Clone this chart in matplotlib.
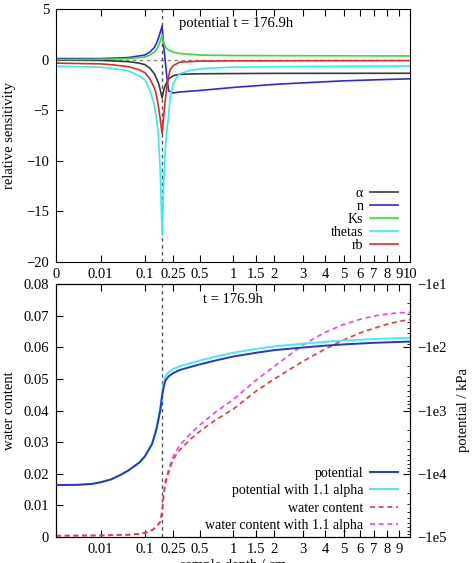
import numpy as np
import matplotlib
matplotlib.use("Agg")
import matplotlib.pyplot as plt
from matplotlib.ticker import FixedLocator, FuncFormatter, LogLocator, NullFormatter

plt.rcParams['font.family'] = ['Liberation Serif', 'DejaVu Serif']
plt.rcParams['font.size'] = 10.5

# ---- top panel: relative sensitivity of potential ----
x_alpha = [0, 0.01, 0.05, 0.08, 0.1, 0.12, 0.14, 0.16, 0.17, 0.18, 0.19, 0.2, 0.21, 0.22, 0.25, 0.3, 0.5, 1, 2, 10]
y_alpha = [-0.05, -0.08, -0.2, -0.35, -0.5, -0.85, -1.4, -2.3, -3.0, -3.8, -3.0, -2.5, -2.2, -1.9, -1.6, -1.45, -1.4, -1.38, -1.36, -1.35]

x_n = [0, 0.01, 0.05, 0.1, 0.12, 0.14, 0.15, 0.16, 0.17, 0.18, 0.19, 0.2, 0.21, 0.22, 0.25, 0.3, 0.5, 1, 2, 3, 5, 7, 10]
y_n = [0.1, 0.1, 0.2, 0.45, 0.75, 1.2, 1.6, 2.1, 2.7, 3.3, 1.3, -0.4, -1.9, -3.1, -3.3, -3.2, -3.05, -2.75, -2.45, -2.3, -2.1, -2.0, -1.9]

x_ks = [0, 0.01, 0.05, 0.1, 0.12, 0.14, 0.15, 0.16, 0.17, 0.18, 0.19, 0.2, 0.22, 0.25, 0.3, 0.5, 1, 10]
y_ks = [0.0, 0.03, 0.1, 0.25, 0.45, 0.75, 1.0, 1.35, 1.85, 2.45, 1.6, 1.2, 0.95, 0.75, 0.6, 0.45, 0.4, 0.36]

x_thetas = [0, 0.01, 0.02, 0.05, 0.08, 0.1, 0.12, 0.14, 0.15, 0.16, 0.17, 0.18, 0.19, 0.2, 0.21, 0.22, 0.23, 0.25, 0.28, 0.3, 0.4, 0.6, 1, 3, 10]
y_thetas = [-0.65, -0.75, -0.85, -1.1, -1.6, -2.0, -3.0, -4.5, -5.8, -7.5, -11, -17.2, -12, -8.5, -6.8, -5.5, -3.7, -2.4, -1.7, -1.4, -1.05, -0.85, -0.75, -0.68, -0.63]

x_rb = [0, 0.01, 0.02, 0.05, 0.08, 0.1, 0.12, 0.14, 0.15, 0.16, 0.17, 0.18, 0.19, 0.2, 0.21, 0.22, 0.23, 0.25, 0.3, 0.5, 1, 10]
y_rb = [-0.35, -0.42, -0.5, -0.7, -1.0, -1.3, -1.9, -2.8, -3.5, -4.6, -5.9, -7.3, -5.5, -3.8, -2.5, -1.6, -1.0, -0.6, -0.25, -0.15, -0.12, -0.1]

# ---- bottom panel: potential (kPa) and water content ----
x_pot = [0, 0.001, 0.005, 0.01, 0.02, 0.033, 0.05, 0.08, 0.1, 0.13, 0.15, 0.17, 0.18, 0.19, 0.2, 0.22, 0.25,
         0.3, 0.4, 0.5, 0.7, 1, 1.5, 2, 3, 4, 5, 7, 10]
pot = [-15100, -14960, -14450, -13650, -12300, -10600, -8900, -6680, -5310, -3350, -2000, -1000, -596, -422, -335, -288, -257,
       -229, -204, -186, -162, -140, -122, -111, -101, -94.4, -90.2, -85.1, -81.3]
pot_alpha = [-15100, -14960, -14450, -13650, -12300, -10600, -8900, -6680, -5310, -3273, -1884, -912, -531, -355, -288, -248, -221,
             -200, -178, -162, -141, -122, -106, -96.6, -88.1, -82.2, -78.5, -74.1, -70.8]

x_wc = [0, 0.01, 0.05, 0.08, 0.1, 0.13, 0.15, 0.17, 0.18, 0.19, 0.2, 0.22, 0.25, 0.3, 0.4, 0.5, 0.7,
        1, 1.5, 2, 3, 4, 5, 6, 7, 8, 9, 10]
wc = [0.0004, 0.0005, 0.0007, 0.001, 0.0013, 0.0022, 0.0033, 0.0048, 0.008, 0.0135, 0.017, 0.0205, 0.0245, 0.0275, 0.031, 0.0335, 0.037,
      0.0405, 0.0462, 0.050, 0.0555, 0.0594, 0.0623, 0.0645, 0.066, 0.0673, 0.0682, 0.0687]
wc_alpha = [0.0004, 0.0005, 0.0007, 0.001, 0.0013, 0.0022, 0.0033, 0.0048, 0.0082, 0.014, 0.0178, 0.0213, 0.0255, 0.029, 0.0328, 0.0355, 0.0395,
            0.0435, 0.0497, 0.054, 0.0607, 0.0647, 0.0672, 0.0688, 0.0699, 0.0705, 0.0709, 0.071]

x_front = 0.18
xticks_top = [0, 0.01, 0.1, 0.25, 0.5, 1, 1.5, 2, 3, 4, 5, 6, 7, 8, 9, 10]
xticks_bot = [0.01, 0.1, 0.25, 0.5, 1, 1.5, 2, 3, 4, 5, 6, 7, 8, 9]


def fwd(v):
    return np.power(np.clip(v, 0, None), 0.3)


def inv(v):
    return np.power(np.clip(v, 0, None), 1 / 0.3)


def setup_x(ax, ticks):
    ax.set_xscale('function', functions=(fwd, inv))
    ax.set_xlim(0, 10)
    ax.xaxis.set_major_locator(FixedLocator(ticks))
    ax.xaxis.set_major_formatter(FuncFormatter(lambda v, p: '%g' % v))
    ax.xaxis.set_minor_locator(FixedLocator([]))
    ax.tick_params(axis='x', direction='in', length=5, top=True, pad=4, width=0.8)
    ax.tick_params(axis='y', direction='in', length=5, pad=5, width=0.8)


fig = plt.figure(figsize=(4.73, 5.63), dpi=100)

ax1 = fig.add_axes([56 / 473, 1 - 262 / 563, 354 / 473, 253 / 563])
setup_x(ax1, xticks_top)
ax1.axhline(0, color='#888888', lw=1.0, ls=(0, (2.5, 2.5)), zorder=1)
ax1.axvline(x_front, color='#555555', lw=1.0, ls=(0, (2.5, 2.5)), zorder=1)
ax1.plot(x_alpha, y_alpha, color='#3a3a3a', lw=1.2, label='α')
ax1.plot(x_n, y_n, color='#2a2ae0', lw=1.2, label='n')
ax1.plot(x_ks, y_ks, color='#33dd33', lw=1.2, label='Ks')
ax1.plot(x_thetas, y_thetas, color='#33eeee', lw=1.2, label='thetas')
ax1.plot(x_rb, y_rb, color='#e02a2a', lw=1.2, label='rb')
ax1.set_ylim(-20, 5)
ax1.set_yticks([-20, -15, -10, -5, 0, 5])
ax1.set_ylabel('relative sensitivity')
ax1.yaxis.set_label_coords(-0.113, 0.5)
ax1.text(0.51, 0.943, 'potential t = 176.9h', transform=ax1.transAxes, ha='center', va='center')
ax1.legend(loc='lower right', bbox_to_anchor=(0.966, 0.04), frameon=False, markerfirst=False,
           handlelength=2.0, handletextpad=0.5, labelspacing=0.0, borderpad=0, borderaxespad=0,
           fontsize=10)

ax2 = fig.add_axes([56 / 473, 1 - 537 / 563, 354 / 473, 253 / 563])
ax3 = ax2.twinx()
setup_x(ax2, xticks_bot)

ax2.axvline(x_front, color='#555555', lw=1.0, ls=(0, (2.5, 2.5)), zorder=1)
ax3.plot(x_pot, [-p for p in pot_alpha], color='#44eeee', lw=1.4, label='potential with 1.1 alpha', zorder=2)
ax3.plot(x_pot, [-p for p in pot], color='#2a35cc', lw=1.4, label='potential', zorder=3)
ax2.plot(x_wc, wc, color='#e83a3a', lw=1.2, ls=(0, (3, 2.2)), label='water content', zorder=3)
ax2.plot(x_wc, wc_alpha, color='#ee44ee', lw=1.2, ls=(0, (3, 2.2)), label='water content with 1.1 alpha', zorder=2)

ax2.set_ylim(0, 0.08)
ax2.set_yticks([0, 0.01, 0.02, 0.03, 0.04, 0.05, 0.06, 0.07, 0.08])
ax2.yaxis.set_major_formatter(FuncFormatter(lambda v, p: '%g' % round(v, 3)))
ax2.set_ylabel('water content')
ax2.yaxis.set_label_coords(-0.113, 0.5)
ax2.set_xlabel('sample depth / cm', labelpad=2.5)
ax2.text(0.5, 0.937, 't = 176.9h', transform=ax2.transAxes, ha='center', va='center')

ax3.set_yscale('log')
ax3.set_ylim(1e5, 1e1)
ax3.yaxis.set_major_locator(FixedLocator([1e1, 1e2, 1e3, 1e4, 1e5]))
ax3.yaxis.set_major_formatter(FuncFormatter(lambda v, p: '\u22121e%d' % round(np.log10(v))))
ax3.yaxis.set_minor_locator(LogLocator(base=10, subs=np.arange(2, 10)))
ax3.yaxis.set_minor_formatter(NullFormatter())
ax3.tick_params(axis='y', which='major', direction='in', length=5, pad=5, width=0.8)
ax3.tick_params(axis='y', which='minor', direction='in', length=2.5, width=0.6)
ax3.set_ylabel('potential / kPa')
ax3.yaxis.set_label_coords(1.132, 0.5)

handles = []
labels = []
for a in (ax3, ax2):
    h, l = a.get_legend_handles_labels()
    handles += h
    labels += l
order = ['potential', 'potential with 1.1 alpha', 'water content', 'water content with 1.1 alpha']
hl = dict(zip(labels, handles))
ax3.legend([hl[k] for k in order], order, loc='lower right', bbox_to_anchor=(0.966, 0.021),
           frameon=False, markerfirst=False, handlelength=2.0, handletextpad=0.5,
           labelspacing=0.3, borderpad=0, borderaxespad=0, fontsize=10)

fig.savefig('out.png', dpi=100)
